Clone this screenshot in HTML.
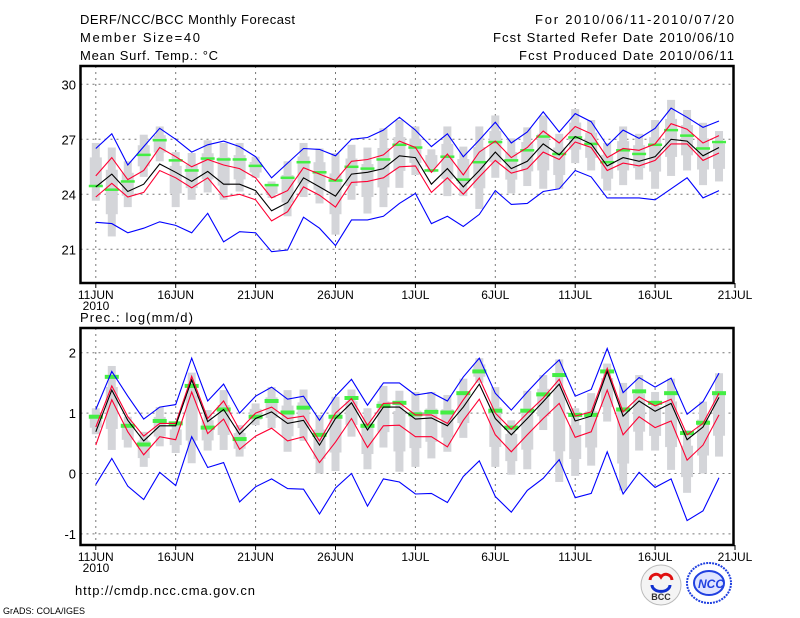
<!DOCTYPE html>
<html><head><meta charset="utf-8"><style>
html,body{margin:0;padding:0;background:#fff;}
#wrap{position:relative;width:800px;height:618px;overflow:hidden;font-family:"Liberation Sans",sans-serif;}
svg text{font-family:"Liberation Sans",sans-serif;}
</style></head><body>
<div id="wrap">
<svg id="svg" width="800" height="618" xmlns="http://www.w3.org/2000/svg">
<text x="80" y="24" font-size="13" textLength="215" lengthAdjust="spacing">DERF/NCC/BCC Monthly Forecast</text>
<text x="80" y="42" font-size="13" textLength="120" lengthAdjust="spacing">Member Size=40</text>
<text x="80" y="60" font-size="13" textLength="138" lengthAdjust="spacing">Mean Surf. Temp.: °C</text>
<text x="535" y="24" font-size="13" textLength="199" lengthAdjust="spacing">For 2010/06/11-2010/07/20</text>
<text x="493" y="42" font-size="13" textLength="241" lengthAdjust="spacing">Fcst Started Refer Date 2010/06/10</text>
<text x="519" y="60" font-size="13" textLength="215" lengthAdjust="spacing">Fcst Produced Date 2010/06/11</text>
<text x="80" y="322" font-size="13" textLength="113" lengthAdjust="spacing">Prec.: log(mm/d)</text>
<text x="75" y="595" font-size="13" textLength="180" lengthAdjust="spacing">http://cmdp.ncc.cma.gov.cn</text>
<text x="3" y="614" font-size="9">GrADS: COLA/IGES</text>
<g>
<circle cx="661" cy="585" r="20" fill="#f4f4f4" stroke="#bbb"/>
<path d="M650 580 a6 6 0 0 1 11 -3 a6 6 0 0 1 11 3" fill="none" stroke="#e01010" stroke-width="3"/>
<path d="M652 585 a7 5 0 0 0 18 0" fill="none" stroke="#1030d0" stroke-width="3"/>
<text x="661" y="600" font-size="9" font-weight="bold" text-anchor="middle" fill="#333" font-family="Liberation Serif,serif">BCC</text>
</g>
<g>
<ellipse cx="709" cy="583" rx="22" ry="20" fill="none" stroke="#2040e0" stroke-width="2" stroke-dasharray="2 1"/>
<ellipse cx="709" cy="583" rx="15" ry="12" fill="#dfe4ff" stroke="#2040e0" stroke-width="2"/>
<text x="711" y="588" font-size="12" font-weight="bold" font-style="italic" text-anchor="middle" fill="#2040e0">NCC</text>
</g>
</svg>
</div>
<script>
// ---- data: temperature panel ----
const days = ["11JUN","16JUN","21JUN","26JUN","1JUL","6JUL","11JUL","16JUL","21JUL"];
const tTicks = [21,24,27,30];
const tMax = [26.5,27.3,25.6,26.6,27.6,27.0,26.3,26.7,26.9,26.6,26.05,24.9,25.7,26.5,26.45,26.1,27.0,27.1,27.5,28.2,27.5,26.6,27.3,26.05,26.96,27.93,26.8,27.4,28.5,27.4,28.4,27.96,26.65,27.5,27.05,27.6,28.7,28.2,27.65,28.0];
const tMin = [22.47,22.4,21.9,22.15,22.5,22.3,21.9,22.96,21.4,21.96,21.9,20.87,20.96,22.75,22.15,21.2,22.6,22.6,22.8,23.5,24.05,22.4,22.8,22.24,22.9,24.2,23.45,23.5,24.15,24.3,25.3,24.95,23.8,23.8,23.8,23.7,24.3,24.9,23.8,24.2];
const tMean = [24.4,25.1,24.15,24.55,25.65,25.2,24.7,25.25,24.55,24.55,24.2,23.1,23.55,24.9,24.4,23.9,25.1,25.2,25.4,26.1,26.0,24.55,25.4,24.4,25.3,26.3,25.4,25.8,26.75,26.15,27.15,26.75,25.55,26.0,25.8,26.05,27.0,26.9,26.1,26.55];
const tUp = [25.0,26.0,24.8,25.3,26.55,26.05,25.5,25.9,25.6,25.4,24.9,23.8,24.2,25.45,25.1,24.75,25.8,25.9,26.15,26.9,26.55,25.2,26.2,25.05,26.3,26.9,26.0,26.55,27.45,26.8,27.7,27.3,26.0,26.5,26.4,26.75,27.85,27.55,26.8,27.2];
const tLo = [23.85,24.6,23.85,24.1,25.3,24.9,24.35,24.9,23.85,24.0,23.7,22.55,23.05,24.4,23.95,23.3,24.65,24.7,24.9,25.5,25.55,24.1,24.9,24.0,24.95,25.85,25.15,25.4,26.3,25.9,26.85,26.55,25.3,25.7,25.55,25.85,26.75,26.75,25.85,26.25];
const tObs = [24.45,24.25,24.7,26.15,26.95,25.85,25.3,25.95,25.9,25.9,25.55,24.5,24.9,25.75,25.2,24.75,25.5,25.4,25.9,26.7,26.55,25.3,26.05,24.8,25.75,26.85,25.85,26.4,27.15,26.2,27.1,26.75,25.75,26.4,26.2,26.7,27.5,27.2,26.5,26.85];
const tBarHi = [26.8,26.55,25.8,27.25,27.7,26.3,26.25,26.95,26.8,26.8,26.05,24.7,25.8,26.8,26.5,26.25,26.7,26.55,27.6,28.05,27.7,26.45,27.7,26.6,27.7,28.3,27.05,27.65,28.3,27.3,28.65,28.05,26.8,27.7,27.3,28.05,29.15,28.6,27.9,27.45];
const tBarLo = [23.65,21.7,23.3,24.95,25.8,23.3,23.7,24.1,23.7,24.15,24.9,23.8,22.8,23.85,23.5,21.8,23.7,22.95,23.3,24.35,25.05,25.2,23.9,23.9,23.2,24.9,24.05,24.45,24.3,24.3,25.7,25.3,24.2,24.5,24.8,24.3,25.0,25.3,24.5,24.7];
// ---- data: precipitation panel ----
const pTicks = [-1,0,1,2];
const pMax = [1.06,1.69,1.28,0.9,1.1,1.14,1.91,1.2,1.48,1.0,1.28,1.43,1.23,1.28,0.88,1.28,1.56,1.13,1.5,1.5,1.3,1.34,1.2,1.6,1.91,1.33,1.05,1.35,1.63,1.88,1.28,1.39,2.07,1.34,1.59,1.43,1.58,0.98,1.19,1.66];
const pMin = [-0.18,0.25,-0.21,-0.43,0.02,-0.2,0.61,0.1,0.18,-0.47,-0.22,-0.09,-0.25,-0.26,-0.67,-0.24,0.0,-0.54,-0.09,-0.14,-0.34,-0.33,-0.48,-0.05,0.21,-0.38,-0.64,-0.28,-0.08,0.23,-0.4,-0.33,0.36,-0.34,0.02,-0.23,-0.09,-0.78,-0.62,-0.07];
const pMean = [0.69,1.38,0.88,0.54,0.79,0.79,1.55,0.86,1.06,0.65,0.91,1.02,0.83,0.88,0.47,0.91,1.17,0.72,1.1,1.1,0.9,0.92,0.79,1.1,1.48,0.91,0.64,0.91,1.19,1.48,0.87,0.95,1.69,0.95,1.2,1.03,1.16,0.56,0.77,1.26];
const pUp = [0.77,1.45,0.94,0.62,0.83,0.83,1.61,0.91,1.2,0.72,1.0,1.1,0.91,0.95,0.54,1.0,1.24,0.8,1.16,1.17,0.97,0.97,0.83,1.22,1.58,1.0,0.73,1.0,1.25,1.56,0.95,1.02,1.74,1.02,1.27,1.12,1.23,0.64,0.83,1.33];
const pLo = [0.47,1.22,0.69,0.31,0.61,0.56,1.35,0.66,0.9,0.4,0.62,0.75,0.54,0.61,0.18,0.52,0.91,0.43,0.79,0.8,0.61,0.61,0.44,0.88,1.23,0.64,0.36,0.64,0.91,1.16,0.6,0.69,1.38,0.64,0.94,0.76,0.87,0.22,0.47,0.97];
const pObs = [0.94,1.6,0.79,0.48,0.87,0.83,1.45,0.76,1.06,0.57,0.94,1.2,1.01,1.09,0.64,0.94,1.25,0.79,1.12,1.17,0.98,1.02,1.01,1.33,1.69,1.04,0.76,1.04,1.31,1.63,0.97,0.97,1.69,1.06,1.36,1.17,1.33,0.67,0.84,1.33];
const pBarHi = [1.08,1.78,0.94,0.69,1.1,0.86,1.67,1.05,1.38,0.8,1.16,1.43,1.38,1.39,0.97,1.27,1.39,1.08,1.45,1.37,1.35,1.35,1.3,1.57,1.91,1.43,0.88,1.37,1.63,1.89,1.08,1.33,1.82,1.5,1.63,1.35,1.57,0.72,1.19,1.66];
const pBarLo = [0.65,0.39,0.43,0.11,0.45,0.34,0.17,0.38,0.39,0.28,0.8,0.75,0.36,0.54,0.0,0.04,0.61,0.07,0.43,0.03,0.11,0.25,0.36,0.59,1.5,0.11,-0.02,0.07,0.72,-0.14,-0.04,0.13,0.86,-0.28,0.38,0.38,0.06,-0.32,0.0,0.28];

const NS="http://www.w3.org/2000/svg";
const svg=document.getElementById('svg');
const X0=80.5, X1=733.5;
function xDay(i){return 95.8+15.98*i;}
function mk(tag,attrs,parent){const e=document.createElementNS(NS,tag);for(const k in attrs)e.setAttribute(k,attrs[k]);(parent||svg).appendChild(e);return e;}

function panel(cfg){
  const g=mk('g',{});
  
  
  const y=v=>cfg.yA+(cfg.vA-v)*cfg.scale;
  cfg.ticks.forEach(t=>{
    const l=mk('line',{x1:X0,x2:X1,y1:y(t),y2:y(t),stroke:'#777','stroke-dasharray':'2 4','stroke-width':1},g);
    
    
    const tx=mk('text',{x:76,y:y(t)+5,'font-size':13,'text-anchor':'end'},g);
    tx.textContent=t;
    
    
  });
  days.forEach((d,k)=>{
    const x=xDay(k*5);
    if(k<days.length-1){
      const l=mk('line',{x1:x,x2:x,y1:cfg.top,y2:cfg.bot,stroke:'#777','stroke-dasharray':'2 4','stroke-width':1},g);
      
      
    }
    mk('line',{x1:x,x2:x,y1:cfg.bot,y2:cfg.bot+5,stroke:'#000'},g);
    const tx=mk('text',{x:x,y:cfg.bot+16,'font-size':12,'text-anchor':'middle'},g);
    tx.textContent=d;
    
    
  });
  const yr=mk('text',{x:96,y:cfg.bot+27,'font-size':12,'text-anchor':'middle'},g);
  yr.textContent='2010';
  
  
  cfg.hi.forEach((h,i)=>{
    const lo=cfg.lo[i], x=xDay(i);
    const b=mk('rect',{x:x-4,y:y(h),width:8,height:y(lo)-y(h),fill:'#d4d5d9'},g);
    
    
    const q1=lo+(h-lo)*0.25, q3=lo+(h-lo)*0.75;
    mk('rect',{x:x-6,y:y(q3),width:12,height:y(q1)-y(q3),fill:'#d4d5d9'},g);
  });
  cfg.obs.forEach((v,i)=>{
    const r=mk('rect',{x:xDay(i)-7,y:y(v)-cfg.gh/2,width:14,height:cfg.gh,fill:'#44ee44'},g);
    
    
  });
  const line=(arr,col,name)=>{
    const p=mk('polyline',{points:arr.map((v,i)=>xDay(i).toFixed(1)+','+y(v).toFixed(1)).join(' '),fill:'none',stroke:col,'stroke-width':1.1},g);
    
    
  };
  line(cfg.max,'#0000ff','max-line');
  line(cfg.min,'#0000ff','min-line');
  line(cfg.up,'#ff0033','upper-line');
  line(cfg.lw,'#ff0033','lower-line');
  line(cfg.mean,'#000000','mean-line');
  const f=mk('rect',{x:X0,y:cfg.top,width:X1-X0,height:cfg.bot-cfg.top,fill:'none',stroke:'#000','stroke-width':2.5},g);
  
  
}
panel({name:'temperature-panel',top:66,bot:283,yA:84.3,vA:30,scale:18.33,ticks:tTicks,
  hi:tBarHi,lo:tBarLo,obs:tObs,max:tMax,min:tMin,up:tUp,lw:tLo,mean:tMean,gh:2.5});
panel({name:'precipitation-panel',top:328,bot:545,yA:352.7,vA:2,scale:60.4,ticks:pTicks,
  hi:pBarHi,lo:pBarLo,obs:pObs,max:pMax,min:pMin,up:pUp,lw:pLo,mean:pMean,gh:4});
</script>
</body></html>
